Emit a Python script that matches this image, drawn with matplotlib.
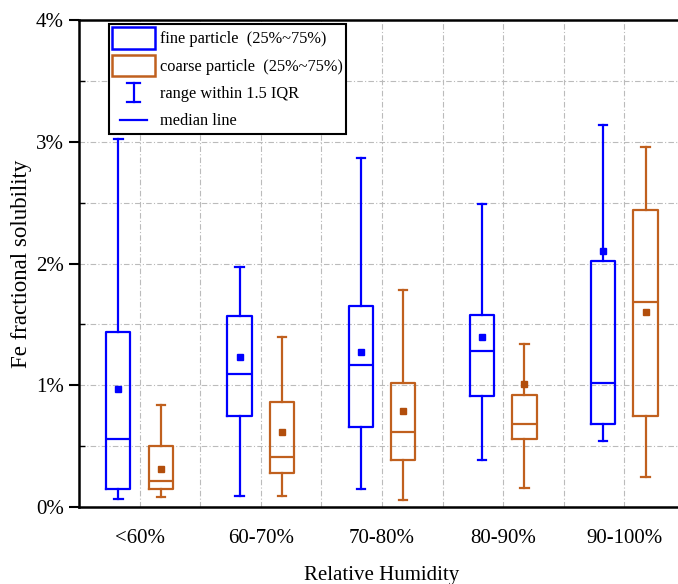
import matplotlib
matplotlib.use("Agg")
import matplotlib.pyplot as plt
from matplotlib.patches import Patch
from matplotlib.lines import Line2D
from matplotlib.legend_handler import HandlerBase
from matplotlib.ticker import FixedLocator, FuncFormatter

plt.rcParams["font.family"] = ["Liberation Serif", "DejaVu Serif"]

categories = ["<60%", "60-70%", "70-80%", "80-90%", "90-100%"]

# fine particle, values in %
fine_whislo = [0.07, 0.09, 0.15, 0.39, 0.54]
fine_q1 = [0.15, 0.75, 0.66, 0.91, 0.68]
fine_med = [0.56, 1.09, 1.17, 1.28, 1.02]
fine_q3 = [1.44, 1.57, 1.65, 1.58, 2.02]
fine_whishi = [3.02, 1.97, 2.87, 2.49, 3.14]
fine_mean = [0.97, 1.23, 1.27, 1.40, 2.10]

# coarse particle, values in %
coarse_whislo = [0.08, 0.09, 0.06, 0.16, 0.25]
coarse_q1 = [0.15, 0.28, 0.39, 0.56, 0.75]
coarse_med = [0.21, 0.41, 0.62, 0.68, 1.68]
coarse_q3 = [0.50, 0.86, 1.02, 0.92, 2.44]
coarse_whishi = [0.84, 1.40, 1.78, 1.34, 2.96]
coarse_mean = [0.31, 0.62, 0.79, 1.01, 1.60]

BLUE = "#0000FF"
ORANGE = "#C0601E"
ORANGE_DARK = "#B24E0C"


def make_stats(lo, q1, med, q3, hi, mean):
    return [dict(whislo=a, q1=b, med=c, q3=d, whishi=e, mean=f, fliers=[])
            for a, b, c, d, e, f in zip(lo, q1, med, q3, hi, mean)]


def draw_boxes(ax, stats, positions, color, mean_color):
    ax.bxp(stats, positions=positions, widths=0.2, capwidths=0.07,
           showmeans=True, showfliers=False, patch_artist=False,
           boxprops=dict(color=color, linewidth=1.6),
           whiskerprops=dict(color=color, linewidth=1.6),
           capprops=dict(color=color, linewidth=1.6),
           medianprops=dict(color=color, linewidth=1.6),
           meanprops=dict(marker="s", markerfacecolor=mean_color,
                          markeredgecolor=mean_color, markersize=5),
           manage_ticks=False, zorder=3)


class HandlerRange(HandlerBase):
    def create_artists(self, legend, orig_handle, xdescent, ydescent,
                       width, height, fontsize, trans):
        cx = width / 2 - xdescent
        y0 = -ydescent + height * 0.05
        y1 = -ydescent + height * 0.95
        cw = width * 0.16
        c = orig_handle.get_color()
        lines = [Line2D([cx, cx], [y0, y1], color=c, lw=1.6),
                 Line2D([cx - cw, cx + cw], [y0, y0], color=c, lw=1.6),
                 Line2D([cx - cw, cx + cw], [y1, y1], color=c, lw=1.6)]
        for ln in lines:
            ln.set_transform(trans)
        return lines


class HandlerShortLine(HandlerBase):
    def create_artists(self, legend, orig_handle, xdescent, ydescent,
                       width, height, fontsize, trans):
        cx = width / 2 - xdescent
        cy = height / 2 - ydescent
        half = width * 0.32
        ln = Line2D([cx - half, cx + half], [cy, cy],
                    color=orig_handle.get_color(), lw=1.6)
        ln.set_transform(trans)
        return [ln]


fig = plt.figure(figsize=(6.78, 5.84), dpi=100)
ax = fig.add_axes([0.1165, 0.1318, 0.8938, 0.8339])

x = list(range(1, len(categories) + 1))
draw_boxes(ax, make_stats(fine_whislo, fine_q1, fine_med, fine_q3, fine_whishi, fine_mean),
           [i - 0.175 for i in x], BLUE, BLUE)
draw_boxes(ax, make_stats(coarse_whislo, coarse_q1, coarse_med, coarse_q3, coarse_whishi, coarse_mean),
           [i + 0.175 for i in x], ORANGE, ORANGE_DARK)

ax.set_xlim(0.5, 5.5)
ax.set_ylim(0, 4)
ax.set_xticks(x)
ax.set_xticklabels(categories, fontsize=15)
ax.xaxis.set_minor_locator(FixedLocator([1.5, 2.5, 3.5, 4.5]))
ax.tick_params(axis="x", which="both", length=0, pad=16)
ax.set_yticks([0, 1, 2, 3, 4])
ax.yaxis.set_major_formatter(FuncFormatter(lambda v, p: f"{v:.0f}%"))
ax.yaxis.set_minor_locator(FixedLocator([0.5, 1.5, 2.5, 3.5]))
ax.tick_params(axis="y", which="major", direction="out", length=7, width=1.5, labelsize=15, pad=4)
ax.tick_params(axis="y", which="minor", direction="in", length=4, width=1.0)

ax.grid(True, which="both", axis="both", color="#BBBBBB", linestyle=(0, (5, 2, 1, 2)),
        linewidth=0.8, zorder=0)
ax.set_axisbelow(True)
for s in ax.spines.values():
    s.set_linewidth(1.8)

ax.set_ylabel("Fe fractional solubility", fontsize=16.5, labelpad=3)
ax.set_xlabel("Relative Humidity", fontsize=15, labelpad=13)

handles = [Patch(facecolor="white", edgecolor=BLUE, linewidth=1.8),
           Patch(facecolor="white", edgecolor=ORANGE, linewidth=1.8),
           Line2D([], [], color=BLUE),
           Line2D([], [], color=BLUE)]
labels = ["fine particle  (25%~75%)", "coarse particle  (25%~75%)",
          "range within 1.5 IQR", "median line"]
range_handle = handles[2]
line_handle = handles[3]
leg = ax.legend(handles, labels, loc="upper left", bbox_to_anchor=(0.0495, 0.992),
                borderaxespad=0, fontsize=11.8, handlelength=2.6, handleheight=1.65,
                labelspacing=0.35, handletextpad=0.3, borderpad=0.2,
                fancybox=False, framealpha=1, edgecolor="black",
                handler_map={range_handle: HandlerRange(), line_handle: HandlerShortLine()})
leg.get_frame().set_linewidth(1.5)
leg.set_zorder(5)

fig.savefig("out.png", dpi=100)
